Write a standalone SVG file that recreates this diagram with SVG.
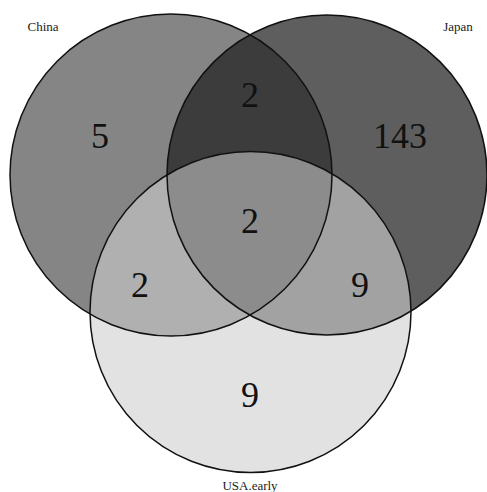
<svg xmlns="http://www.w3.org/2000/svg" width="487" height="492" viewBox="0 0 487 492">
<style>
.edge{fill:none;stroke:#111;stroke-width:1.5}
.num{font-family:"Liberation Serif","Times New Roman",serif;font-size:36px;fill:#111;text-anchor:middle}
.lab{font-family:"Liberation Serif","Times New Roman",serif;font-size:13px;fill:#222;text-anchor:middle}
</style>
<defs>
<circle id="cC" cx="171" cy="175" r="161"/>
<circle id="cJ" cx="327" cy="175" r="160"/>
<circle id="cU" cx="250.5" cy="312" r="160.5"/>
<clipPath id="clipC"><use href="#cC"/></clipPath>
<clipPath id="clipU"><use href="#cU"/></clipPath>
</defs>
<rect width="487" height="492" fill="#fff"/>
<g id="regions">
<use href="#cC" fill="#858585"/>
<use href="#cJ" fill="#5e5e5e"/>
<use href="#cJ" fill="#3c3c3c" clip-path="url(#clipC)"/>
<use href="#cU" fill="#e2e2e2"/>
<g clip-path="url(#clipU)">
<use href="#cC" fill="#b0b0b0"/>
<use href="#cJ" fill="#a2a2a2"/>
<use href="#cJ" fill="#8c8c8c" clip-path="url(#clipC)"/>
</g>
</g>
<g id="China"><use href="#cC" class="edge"/><text class="lab" x="43" y="31">China</text><text class="num" x="100" y="148">5</text></g>
<g id="Japan"><use href="#cJ" class="edge"/><text class="lab" x="458" y="31">Japan</text><text class="num" x="400" y="148">143</text></g>
<g id="USA"><use href="#cU" class="edge"/><text class="lab" x="250" y="490">USA.early</text><text class="num" x="250" y="407">9</text></g>
<g id="counts">
<text class="num" x="250" y="107">2</text>
<text class="num" x="250" y="233">2</text>
<text class="num" x="140" y="297">2</text>
<text class="num" x="360" y="297">9</text>
</g>
</svg>
